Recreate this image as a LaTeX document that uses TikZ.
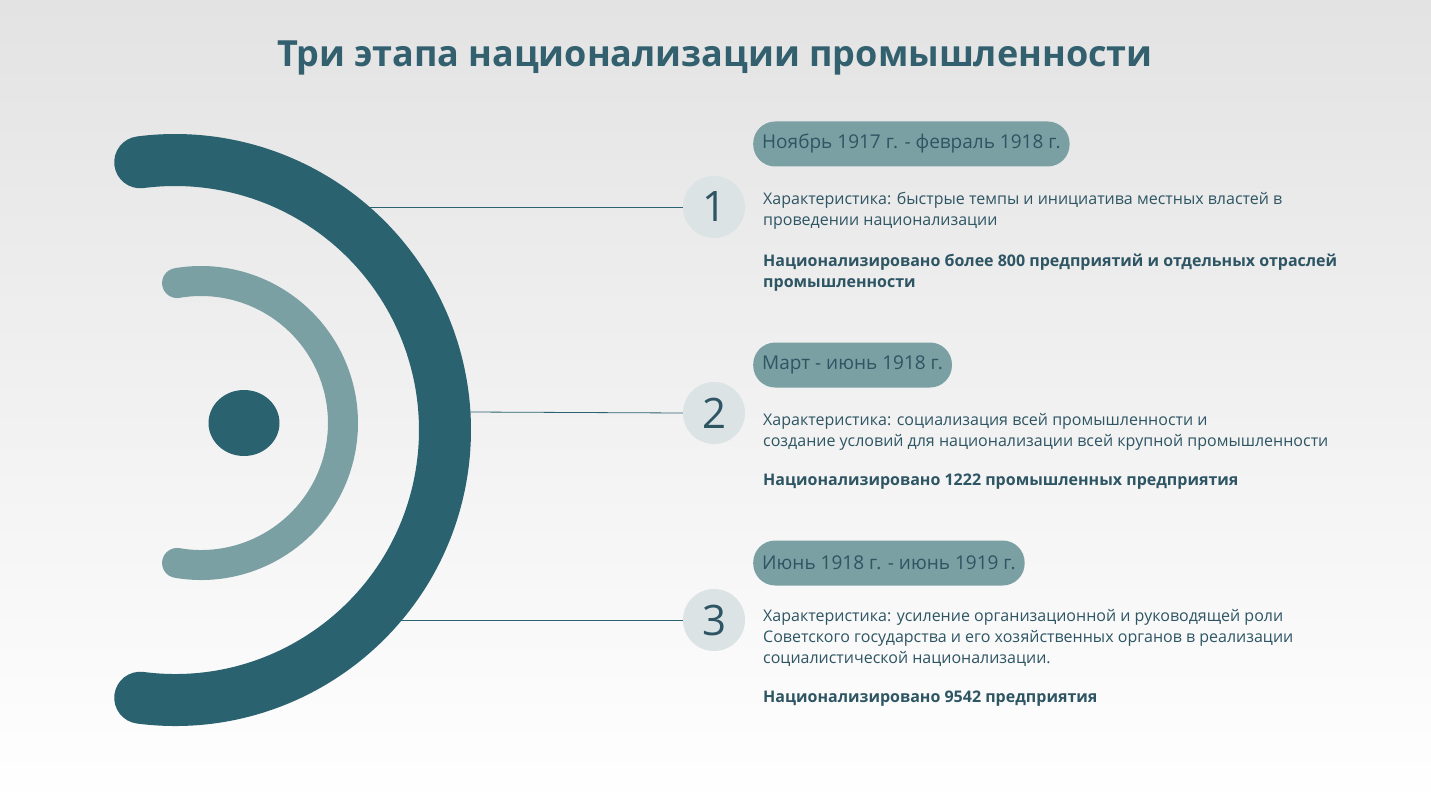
\documentclass[tikz,border=0pt]{standalone}
\usepackage{fontspec}
\usetikzlibrary{shapes.geometric}
\setmainfont{Open Sans}
\definecolor{dk}{HTML}{2A6270}
\definecolor{lt}{HTML}{7BA0A3}
\definecolor{cbg}{HTML}{DCE3E5}
\definecolor{ttl}{HTML}{33606E}
\definecolor{txt}{HTML}{2E5563}
\tikzset{
 pill/.style={fill=lt,rounded corners=22pt,minimum height=45pt,inner xsep=9pt,anchor=west,text=txt,font=\fontsize{19}{19}\selectfont},
 num/.style={circle,fill=cbg,minimum size=62pt,inner sep=0pt,text=txt,font=\fontsize{42}{42}\selectfont},
 desc/.style={anchor=north west,align=left,text=txt,font=\fontsize{16}{21}\selectfont,inner sep=0pt},
 bold/.style={desc,font=\fontsize{16}{21}\selectfont\bfseries},
 conn/.style={draw=dk,line width=0.8pt}
}
\begin{document}
\begin{tikzpicture}[x=1pt,y=-1pt]
\shade[top color=gray!22,bottom color=white] (0,0) rectangle (1431,805);
\useasboundingbox (0,0) rectangle (1431,805);
\node[text=ttl,font=\fontsize{36}{36}\selectfont\bfseries] (title) at (715,58) {Три этапа национализации промышленности};
% arcs
\draw[dk,line width=52pt,line cap=round] (175,430) ++(97.4:270) arc[start angle=97.4,end angle=-97.4,radius=270];
\draw[lt,line width=30pt,line cap=round] (201,423) ++(99.7:142) arc[start angle=99.7,end angle=-99.7,radius=142];
\node[ellipse,fill=dk,minimum width=71pt,minimum height=66pt,inner sep=0pt] (dot) at (244,423) {};
\coordinate (a1) at (370,207);
\coordinate (a2) at (470,412);
\coordinate (a3) at (400,620);
\node[num] (n1) at (714,207) {1};
\node[num] (n2) at (714,413) {2};
\node[num] (n3) at (714,620) {3};
\draw[conn] (a1) -- (n1.west);
\draw[conn] (a2) -- (n2.west);
\draw[conn] (a3) -- (n3.west);
\node[pill] (p1) at (753,144) {Ноябрь 1917 г. - февраль 1918 г.};
\node[pill] (p2) at (753,365) {Март - июнь 1918 г.};
\node[pill] (p3) at (753,563) {Июнь 1918 г. - июнь 1919 г.};
\node[desc] (d1) at (763,192) {Характеристика: быстрые темпы и инициатива местных властей в\\проведении национализации};
\node[bold] (b1) at (763,254) {Национализировано более 800 предприятий и отдельных отраслей\\промышленности};
\node[desc] (d2) at (763,413) {Характеристика: социализация всей промышленности и\\создание условий для национализации всей крупной промышленности};
\node[bold] (b2) at (763,474) {Национализировано 1222 промышленных предприятия};
\node[desc] (d3) at (763,609) {Характеристика: усиление организационной и руководящей роли\\Советского государства и его хозяйственных органов в реализации\\социалистической национализации.};
\node[bold] (b3) at (763,691) {Национализировано 9542 предприятия};
\end{tikzpicture}
\end{document}
